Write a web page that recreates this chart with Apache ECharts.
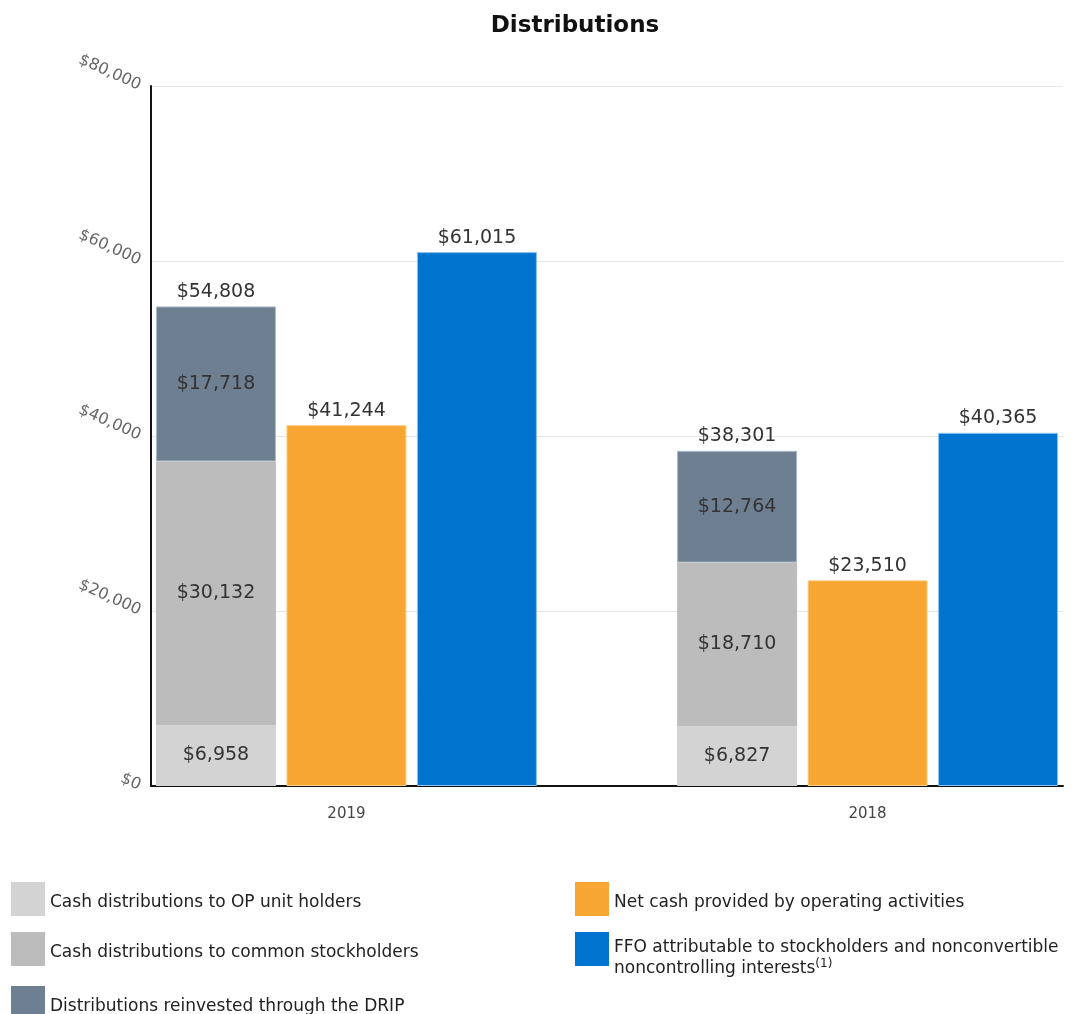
<!DOCTYPE html>
<html>
<head>
<meta charset="utf-8">
<title>Distributions</title>
<script src="https://cdn.jsdelivr.net/npm/echarts@6/dist/echarts.min.js"></script>
<style>
  html, body { margin: 0; padding: 0; background: #ffffff; }
  #chart { width: 1074px; height: 1014px; }
</style>
</head>
<body>
<div id="chart"></div>
<script>
// Fiscal years shown, left to right
const years = ['2019', '2018'];

// Stacked distribution components (in thousands of dollars)
const opUnitHolders = [6958, 6827];
const commonStockholders = [30132, 18710];
const dripReinvested = [17718, 12764];

// Comparison measures
const netCashOperating = [41244, 23510];
const ffoAttributable = [61015, 40365];

// Value axis ticks
const yTicks = [0, 20000, 40000, 60000, 80000];

// The category axis is split into narrow slots (one per bar width);
// each year's group of three bars is centred on its own slot.
const slotCount = 7;
const yearSlots = [1, 5];
const slotLabels = Array.from({ length: slotCount }, (_, s) => {
  const k = yearSlots.indexOf(s);
  return k >= 0 ? years[k] : '';
});
const place = arr => {
  const out = new Array(slotCount).fill(null);
  yearSlots.forEach((s, k) => { out[s] = arr[k]; });
  return out;
};

const names = {
  op: 'Cash distributions to OP unit holders',
  common: 'Cash distributions to common stockholders',
  drip: 'Distributions reinvested through the DRIP',
  net: 'Net cash provided by operating activities',
  ffo: 'FFO attributable to stockholders and nonconvertible\nnoncontrolling interests(1)'
};

const colors = {
  op: '#d3d3d3',
  common: '#bcbcbc',
  drip: '#6e7f92',
  net: '#f7a533',
  ffo: '#0074cf'
};

const fmt = v => '$' + Number(v).toLocaleString('en-US');
const FONT = '"DejaVu Sans", Verdana, sans-serif';

const stackTotals = years.map((_, i) => opUnitHolders[i] + commonStockholders[i] + dripReinvested[i]);

const insideLabel = {
  show: true,
  position: 'inside',
  formatter: p => fmt(p.value),
  color: '#333',
  fontFamily: FONT,
  fontSize: 19
};
const topLabel = {
  show: true,
  position: 'top',
  distance: 5,
  formatter: p => fmt(p.value),
  color: '#333',
  fontFamily: FONT,
  fontSize: 19
};

function legendItem(name, left, top, extraText) {
  return {
    data: [name],
    left: left,
    top: top,
    orient: 'vertical',
    padding: 0,
    icon: 'rect',
    itemWidth: 34,
    itemHeight: 34,
    selectedMode: false,
    itemStyle: { borderWidth: 0 },
    formatter: n => n.replace('(1)', '{sup|(1)}'),
    textStyle: Object.assign({
      fontFamily: FONT,
      fontSize: 17,
      color: '#222',
      padding: [8, 0, 0, 0],
      rich: { sup: { fontSize: 12, verticalAlign: 'top', padding: [0, 0, 6, 0], fontFamily: FONT, color: '#222' } }
    }, extraText || {})
  };
}

const chart = echarts.init(document.getElementById('chart'), null, { renderer: 'canvas' });

chart.setOption({
  backgroundColor: '#ffffff',
  animation: false,
  title: {
    text: 'Distributions',
    left: 570,
    top: 10,
    textAlign: 'center',
    textStyle: { fontFamily: FONT, fontSize: 23, fontWeight: 'bold', color: '#111' }
  },
  grid: { left: 151, right: 11, top: 86, bottom: 228 },
  xAxis: {
    type: 'category',
    data: slotLabels,
    axisTick: { show: false },
    axisLine: { show: true, lineStyle: { color: '#111', width: 2 } },
    axisLabel: {
      interval: 0,
      color: '#444',
      fontFamily: FONT,
      fontSize: 15,
      margin: 21
    }
  },
  yAxis: {
    type: 'value',
    min: 0,
    max: 80000,
    interval: 20000,
    axisLine: { show: true, onZero: false, lineStyle: { color: '#111', width: 2 } },
    axisTick: { show: false },
    splitLine: { show: true, lineStyle: { color: '#e6e6e6', width: 1 } },
    axisLabel: {
      customValues: yTicks,
      formatter: v => fmt(v),
      rotate: -24,
      margin: 11,
      padding: [0, 0, 8, 0],
      color: '#666',
      fontFamily: FONT,
      fontSize: 16
    }
  },
  legend: [
    legendItem(names.op, 11, 882),
    legendItem(names.common, 11, 932),
    legendItem(names.drip, 11, 986),
    legendItem(names.net, 575, 882),
    legendItem(names.ffo, 575, 919, { padding: [18, 0, 0, 0], lineHeight: 21 })
  ],
  series: [
    {
      name: names.op, type: 'bar', stack: 'dist', barWidth: 120, barGap: '8.75%',
      data: place(opUnitHolders),
      itemStyle: { color: colors.op },
      label: insideLabel
    },
    {
      name: names.common, type: 'bar', stack: 'dist', barWidth: 120,
      data: place(commonStockholders),
      itemStyle: { color: colors.common },
      label: insideLabel
    },
    {
      name: names.drip, type: 'bar', stack: 'dist', barWidth: 120,
      data: place(dripReinvested),
      itemStyle: { color: colors.drip, borderColor: '#a9b8c8', borderWidth: 1 },
      label: insideLabel
    },
    {
      // zero-height cap carrying the stack total label
      name: 'stackTotal', type: 'bar', stack: 'dist', barWidth: 120,
      data: place(years.map(() => 0)),
      itemStyle: { color: 'rgba(0,0,0,0)' },
      label: Object.assign({}, topLabel, {
        formatter: p => fmt(stackTotals[yearSlots.indexOf(p.dataIndex)])
      })
    },
    {
      name: names.net, type: 'bar', barWidth: 120,
      data: place(netCashOperating),
      itemStyle: { color: colors.net, borderColor: '#fbd08a', borderWidth: 1 },
      label: topLabel
    },
    {
      name: names.ffo, type: 'bar', barWidth: 120,
      data: place(ffoAttributable),
      itemStyle: { color: colors.ffo, borderColor: '#8cc3f0', borderWidth: 1 },
      label: topLabel
    }
  ]
});
</script>
</body>
</html>
